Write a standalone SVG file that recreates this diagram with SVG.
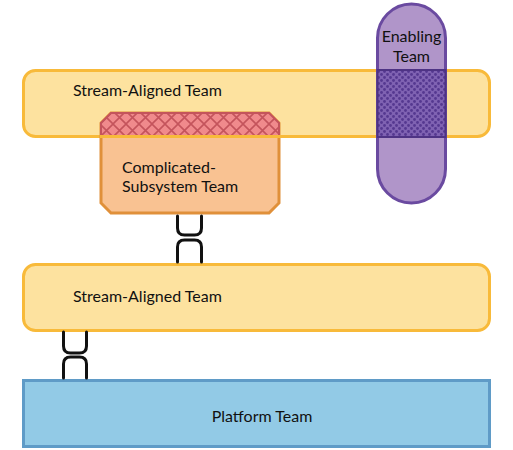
<svg xmlns="http://www.w3.org/2000/svg" width="513" height="450" viewBox="0 0 513 450">
  <defs>
    <pattern id="hatch" patternUnits="userSpaceOnUse" width="13" height="13" x="100" y="111">
      <rect width="13" height="13" fill="#f08a8c"/>
      <path d="M0,0 L13,13 M13,0 L0,13 M-1,12 L1,14 M12,-1 L14,1" stroke="#c4545c" stroke-width="1.6" fill="none"/>
    </pattern>
    <pattern id="dots" patternUnits="userSpaceOnUse" width="6" height="6" x="377" y="70">
      <rect width="6" height="6" fill="#7f62b2"/>
      <circle cx="1.5" cy="1.5" r="1.4" fill="#553890"/>
      <circle cx="4.5" cy="4.5" r="1.4" fill="#553890"/>
    </pattern>
  </defs>
  <style>
    .stream { fill: #fde29f; stroke: #f8ba3a; stroke-width: 3; }
    .label { font-family: "Lato", "Open Sans", sans-serif; font-size: 16px; fill: #111; }
    .link { fill: none; stroke: #111; stroke-width: 3; stroke-linecap: round; }
  </style>

  <g id="stream-aligned-1">
    <rect class="stream" x="23.5" y="70.5" width="466" height="66" rx="12"/>
    <text class="label" x="73" y="96">Stream-Aligned Team</text>
  </g>

  <g id="complicated-subsystem">
    <path d="M111,113 H269 L279,123 V203 L269,213 H111 L101,203 V123 Z" fill="#f9c292" stroke="#e0903a" stroke-width="3"/>
    <path d="M111,113 H269 L279,123 V136 H101 V123 Z" fill="url(#hatch)" stroke="#c4545c" stroke-width="2"/>
    <line x1="100" y1="136.5" x2="281" y2="136.5" stroke="#f8ba3a" stroke-width="3"/>
    <text class="label" x="122" y="173">Complicated-</text>
    <text class="label" x="122" y="192">Subsystem Team</text>
  </g>

  <g id="enabling">
    <rect x="377.5" y="4" width="68" height="199" rx="34" fill="#b095c9" stroke="#6a4aa0" stroke-width="3"/>
    <rect x="377.5" y="70" width="68" height="67" fill="url(#dots)" stroke="#4e3384" stroke-width="2"/>
    <text class="label" x="411.5" y="42" text-anchor="middle">Enabling</text>
    <text class="label" x="411.5" y="62" text-anchor="middle">Team</text>
  </g>

  <g id="stream-aligned-2">
    <rect class="stream" x="23.5" y="264.5" width="466" height="66" rx="12"/>
    <text class="label" x="73" y="302">Stream-Aligned Team</text>
  </g>

  <g id="platform">
    <rect x="23.5" y="380.5" width="466" height="66" fill="#92cae6" stroke="#5f9bc7" stroke-width="3"/>
    <text class="label" x="262" y="422" text-anchor="middle">Platform Team</text>
  </g>

  <g id="connectors">
    <path class="link" d="M177.5,216 V228 Q177.5,235 184.5,235 H194.5 Q201.5,235 201.5,228 V216"/>
    <path class="link" d="M177.5,262 V247 Q177.5,240 184.5,240 H194.5 Q201.5,240 201.5,247 V262"/>
    <path class="link" d="M63.5,332 V346 Q63.5,353 70.5,353 H79.5 Q86.5,353 86.5,346 V332"/>
    <path class="link" d="M63.5,378 V364 Q63.5,357 70.5,357 H79.5 Q86.5,357 86.5,364 V378"/>
  </g>
</svg>
